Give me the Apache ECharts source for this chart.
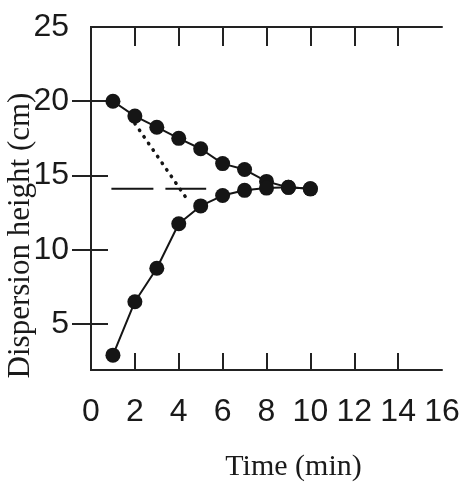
<!DOCTYPE html>
<html>
<head>
<meta charset="utf-8">
<script src="https://cdn.jsdelivr.net/npm/echarts@6/dist/echarts.min.js"></script>
<style>
html,body{margin:0;padding:0;background:#fff;}
#c{width:464px;height:482px;}
</style>
</head>
<body>
<div id="c"></div>
<script>
// Data
var times = [1, 2, 3, 4, 5, 6, 7, 8, 9, 10];
var upperHeights = [20.0, 19.0, 18.25, 17.5, 16.8, 15.8, 15.4, 14.6, 14.2, 14.1];
var lowerHeights = [2.9, 6.5, 8.75, 11.75, 12.95, 13.65, 14.0, 14.15, 14.2, 14.1];
var dashedX = [0.93, 5.25];
var dashedY = [14.1, 14.1];
var dottedX = [2.0, 4.45];
var dottedY = [18.5, 13.25];
var xTickLabels = [0, 2, 4, 6, 8, 10, 12, 14, 16];
var xTickMarks = [2, 4, 6, 8, 10, 12, 14];
var yTickLabels = [5, 10, 15, 20, 25];
var yTickMarks = [5, 10, 15, 20];

function pairs(xs, ys) { return xs.map(function (x, i) { return [x, ys[i]]; }); }

var ink = '#151515';
var chart = echarts.init(document.getElementById('c'), null, { renderer: 'canvas' });
var axisLine = { show: true, lineStyle: { color: '#222', width: 2 } };
var option = {
  animation: false,
  backgroundColor: '#fff',
  grid: { left: 91, right: 22, top: 27, bottom: 112, containLabel: false, outerBoundsMode: 'none' },
  xAxis: [{
    type: 'value', position: 'bottom', min: 0, max: 16, interval: 2,
    axisLine: axisLine,
    axisTick: { show: true, inside: true, length: 17, customValues: xTickMarks, lineStyle: { color: '#222', width: 2 } },
    axisLabel: { show: true, margin: 26, customValues: xTickLabels, fontFamily: 'Liberation Sans, Arial, sans-serif', fontSize: 32, color: '#1a1a1a' },
    splitLine: { show: false },
    name: 'Time (min)', nameLocation: 'middle', nameGap: 82,
    nameTextStyle: { fontFamily: 'Liberation Serif, Times New Roman, serif', fontSize: 30, color: '#1a1a1a', padding: [0, 0, 0, 54] }
  }, {
    type: 'value', position: 'top', min: 0, max: 16, interval: 2,
    axisLine: axisLine,
    axisTick: { show: true, inside: true, length: 19, customValues: xTickMarks, lineStyle: { color: '#222', width: 2 } },
    axisLabel: { show: false },
    splitLine: { show: false }
  }],
  yAxis: [{
    type: 'value', position: 'left', min: 1.9, max: 25,
    axisLine: axisLine,
    axisTick: { show: true, inside: true, length: 17, customValues: yTickMarks, lineStyle: { color: '#222', width: 2 } },
    axisLabel: { show: true, margin: 22, customValues: yTickLabels, fontFamily: 'Liberation Sans, Arial, sans-serif', fontSize: 32, color: '#1a1a1a' },
    splitLine: { show: false },
    name: 'Dispersion height (cm)', nameLocation: 'middle', nameGap: 55, nameRotate: 90, nameMoveOverlap: false,
    nameTextStyle: { fontFamily: 'Liberation Serif, Times New Roman, serif', fontSize: 31, color: '#1a1a1a', padding: [0, 74, 0, 0] }
  }, {
    type: 'value', position: 'right', min: 1.9, max: 25,
    axisLine: axisLine,
    axisTick: { show: true, inside: true, length: 19, customValues: yTickMarks, lineStyle: { color: '#222', width: 2 } },
    axisLabel: { show: false },
    splitLine: { show: false }
  }],
  series: [{
    name: 'dashed', type: 'line', xAxisIndex: 0, yAxisIndex: 0,
    data: pairs(dashedX, dashedY), symbol: 'none',
    lineStyle: { color: ink, width: 2, type: [42, 12] }, z: 1
  }, {
    name: 'dotted', type: 'line', xAxisIndex: 0, yAxisIndex: 0,
    data: pairs(dottedX, dottedY), symbol: 'none',
    lineStyle: { color: ink, width: 3.5, type: [0.5, 7.5], cap: 'round' }, z: 1
  }, {
    name: 'upper', type: 'line', xAxisIndex: 0, yAxisIndex: 0,
    data: pairs(times, upperHeights), symbol: 'circle', symbolSize: 15,
    itemStyle: { color: ink }, lineStyle: { color: ink, width: 2 }, z: 3
  }, {
    name: 'lower', type: 'line', xAxisIndex: 0, yAxisIndex: 0,
    data: pairs(times, lowerHeights), symbol: 'circle', symbolSize: 15,
    itemStyle: { color: ink }, lineStyle: { color: ink, width: 2 }, z: 3
  }]
};
chart.setOption(option);
</script>
</body>
</html>
